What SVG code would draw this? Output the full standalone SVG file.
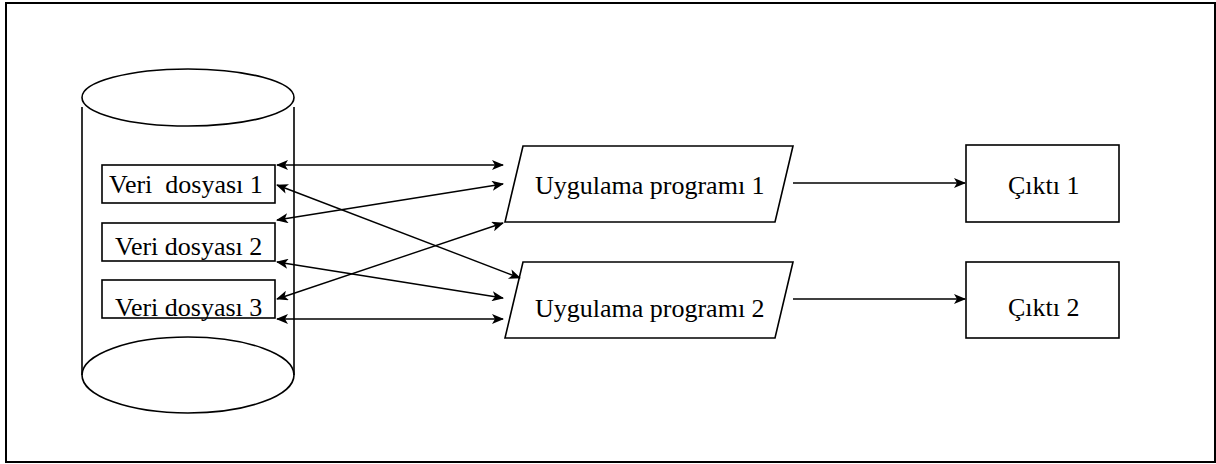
<svg xmlns="http://www.w3.org/2000/svg" width="1216" height="464" viewBox="0 0 1216 464">
<style>
.s{fill:none;stroke:#000;stroke-width:1.6}
.b{fill:#fff;stroke:#000;stroke-width:1.6}
.t{font-family:"Liberation Serif","Times New Roman",serif;font-size:26px;fill:#000;white-space:pre}
.c{fill:none;stroke:#000;stroke-width:1.4}
</style>
<defs>
<marker id="ah" viewBox="0 0 12 10" refX="11" refY="5" markerWidth="12" markerHeight="10" markerUnits="userSpaceOnUse" orient="auto-start-reverse">
<path d="M0,0 L12,5 L0,10 L3,5 z" fill="#000"/>
</marker>
</defs>
<rect x="6" y="3" width="1209" height="459" fill="#fff" stroke="#000" stroke-width="2"/>
<g id="database">
<ellipse class="s" cx="188" cy="97.5" rx="106" ry="28.5"/>
<line class="s" x1="82" y1="107" x2="82" y2="375"/>
<line class="s" x1="294" y1="107" x2="294" y2="375"/>
<ellipse class="s" cx="188" cy="375" rx="106" ry="38"/>
</g>
<g id="veri1">
<rect class="s" x="102" y="165" width="173" height="38"/>
<text class="t" x="109" y="193">Veri  dosyası 1</text>
</g>
<g id="veri2">
<rect class="s" x="102" y="223" width="173" height="38"/>
<text class="t" x="115" y="255">Veri dosyası 2</text>
</g>
<g id="veri3">
<rect class="s" x="102" y="280" width="173" height="38"/>
<text class="t" x="115" y="316">Veri dosyası 3</text>
</g>
<g id="prog1">
<polygon class="s" points="523,146 793,146 775,222 505,222"/>
<text class="t" x="535" y="194">Uygulama programı 1</text>
</g>
<g id="prog2">
<polygon class="s" points="523,262 793,262 775,338 505,338"/>
<text class="t" x="535" y="317">Uygulama programı 2</text>
</g>
<g id="cikti1">
<rect class="s" x="966" y="145" width="153" height="77"/>
<text class="t" x="1008" y="194">Çıktı 1</text>
</g>
<g id="cikti2">
<rect class="s" x="966" y="262" width="153" height="76"/>
<text class="t" x="1008" y="316">Çıktı 2</text>
</g>
<g id="connectors">
<line class="c" x1="277" y1="165" x2="503" y2="165" marker-start="url(#ah)" marker-end="url(#ah)"/>
<line class="c" x1="277" y1="185" x2="520" y2="278" marker-start="url(#ah)" marker-end="url(#ah)"/>
<line class="c" x1="277" y1="220" x2="503" y2="184" marker-start="url(#ah)" marker-end="url(#ah)"/>
<line class="c" x1="277" y1="262" x2="503" y2="298" marker-start="url(#ah)" marker-end="url(#ah)"/>
<line class="c" x1="277" y1="299" x2="503" y2="223" marker-start="url(#ah)" marker-end="url(#ah)"/>
<line class="c" x1="277" y1="319" x2="503" y2="319" marker-start="url(#ah)" marker-end="url(#ah)"/>
<line class="c" x1="793" y1="183" x2="965" y2="183" marker-end="url(#ah)"/>
<line class="c" x1="793" y1="299" x2="965" y2="299" marker-end="url(#ah)"/>
</g>
</svg>
